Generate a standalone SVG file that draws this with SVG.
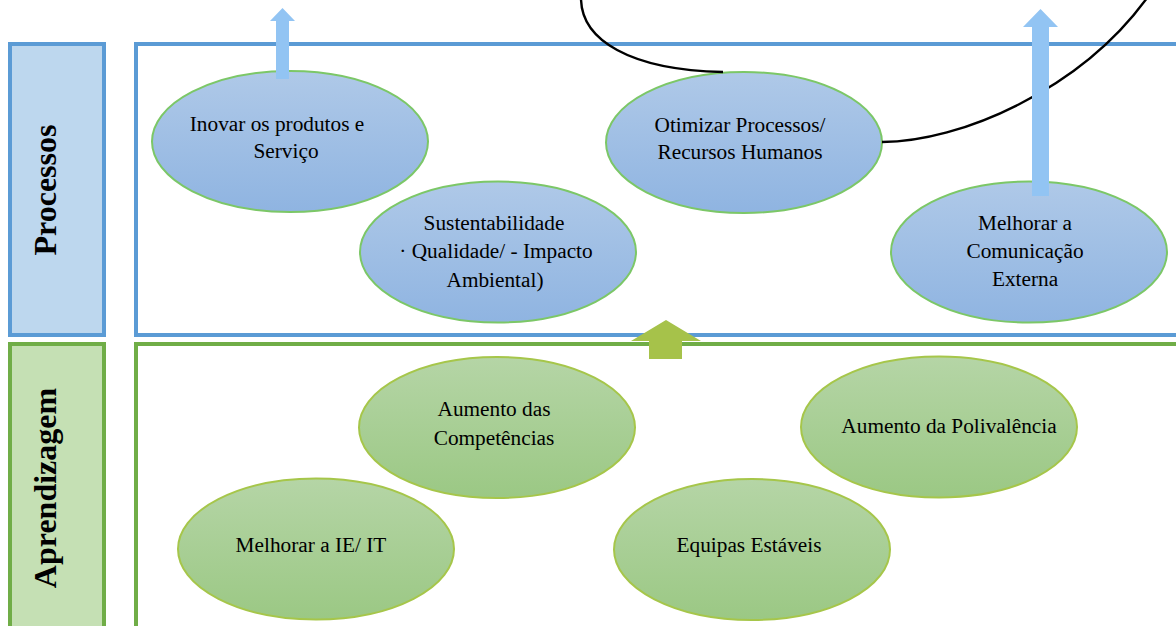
<svg xmlns="http://www.w3.org/2000/svg" width="1176" height="626" viewBox="0 0 1176 626">
  <defs>
    <linearGradient id="gBlue" x1="0" y1="0" x2="0" y2="1">
      <stop offset="0" stop-color="#AFC9E8"/>
      <stop offset="1" stop-color="#8FB4E1"/>
    </linearGradient>
    <linearGradient id="gGreen" x1="0" y1="0" x2="0" y2="1">
      <stop offset="0" stop-color="#B5D5A6"/>
      <stop offset="1" stop-color="#9BC884"/>
    </linearGradient>
    <style>
      .lblP { fill: #BDD7EE; stroke: #5B9BD5; stroke-width: 4; }
      .lblA { fill: #C5E0B4; stroke: #70AD47; stroke-width: 4; }
      .laneP { fill: #FFFFFF; stroke: #5B9BD5; stroke-width: 4; }
      .laneA { fill: #FFFFFF; stroke: #70AD47; stroke-width: 4; }
      .eb { fill: url(#gBlue); stroke: #7CC767; stroke-width: 2; }
      .eg { fill: url(#gGreen); stroke: #A6C64A; stroke-width: 2; }
      .t { font-family: "Liberation Serif", "Times New Roman", serif; font-size: 21.3px; fill: #000; text-anchor: middle; }
      .side { font-family: "Liberation Serif", "Times New Roman", serif; font-size: 32px; font-weight: bold; fill: #000; text-anchor: middle; }
      .curve { fill: none; stroke: #000; stroke-width: 2.4; }
      .upB { fill: #92C4F3; }
      .upG { fill: #A6C24A; }
    </style>
  </defs>

  <!-- lanes -->
  <g id="lane-processos">
    <rect class="lblP" x="10" y="44" width="94" height="291"/>
    <rect class="laneP" x="136" y="44" width="1060" height="291"/>
    <text class="side" transform="translate(56,190) rotate(-90)">Processos</text>
  </g>
  <g id="lane-aprendizagem">
    <rect class="lblA" x="10" y="344" width="94" height="300"/>
    <rect class="laneA" x="136" y="344" width="1060" height="300"/>
    <text class="side" transform="translate(56,488) rotate(-90)">Aprendizagem</text>
  </g>

  <!-- process objectives -->
  <g id="node-inovar">
    <ellipse class="eb" cx="290" cy="141.5" rx="138" ry="70.5"/>
    <text class="t" x="277" y="131">Inovar os produtos e</text>
    <text class="t" x="286" y="158">Serviço</text>
  </g>
  <g id="node-sustentabilidade">
    <ellipse class="eb" cx="498" cy="252" rx="138" ry="70.5"/>
    <text class="t" x="494" y="230">Sustentabilidade</text>
    <text class="t" x="496" y="258">· Qualidade/ - Impacto</text>
    <text class="t" x="495" y="287">Ambiental)</text>
  </g>
  <g id="node-otimizar">
    <ellipse class="eb" cx="744" cy="142.5" rx="138" ry="70.5"/>
    <text class="t" x="740" y="132">Otimizar Processos/</text>
    <text class="t" x="740" y="159">Recursos Humanos</text>
  </g>
  <g id="node-comunicacao">
    <ellipse class="eb" cx="1029" cy="252" rx="138" ry="70.5"/>
    <text class="t" x="1025" y="230">Melhorar a</text>
    <text class="t" x="1025" y="258">Comunicação</text>
    <text class="t" x="1025" y="286">Externa</text>
  </g>

  <!-- learning objectives -->
  <g id="node-competencias">
    <ellipse class="eg" cx="497" cy="427.5" rx="138" ry="70.5"/>
    <text class="t" x="494" y="416">Aumento das</text>
    <text class="t" x="494" y="445">Competências</text>
  </g>
  <g id="node-polivalencia">
    <ellipse class="eg" cx="939" cy="427" rx="138" ry="70.5"/>
    <text class="t" x="949" y="433">Aumento da Polivalência</text>
  </g>
  <g id="node-ie-it">
    <ellipse class="eg" cx="316" cy="549" rx="138" ry="70.5"/>
    <text class="t" x="311" y="552">Melhorar a IE/ IT</text>
  </g>
  <g id="node-equipas">
    <ellipse class="eg" cx="752" cy="549.5" rx="138" ry="70.5"/>
    <text class="t" x="749" y="552">Equipas Estáveis</text>
  </g>

  <!-- connectors -->
  <g id="connectors">
    <path class="curve" d="M581,-2 C581,40 630,70 723,72"/>
    <path class="curve" d="M882,142 C960,142 1080,90 1147,-2"/>
    <polygon class="upB" points="276,79 276,21 270,21 282.5,8 295,21 289,21 289,79"/>
    <polygon class="upB" points="1032,196 1032,27 1023,27 1040.5,9 1058,27 1049,27 1049,196"/>
    <polygon class="upG" points="649,359 649,341 631,341 666,320 701,341 682,341 682,359"/>
  </g>
</svg>
